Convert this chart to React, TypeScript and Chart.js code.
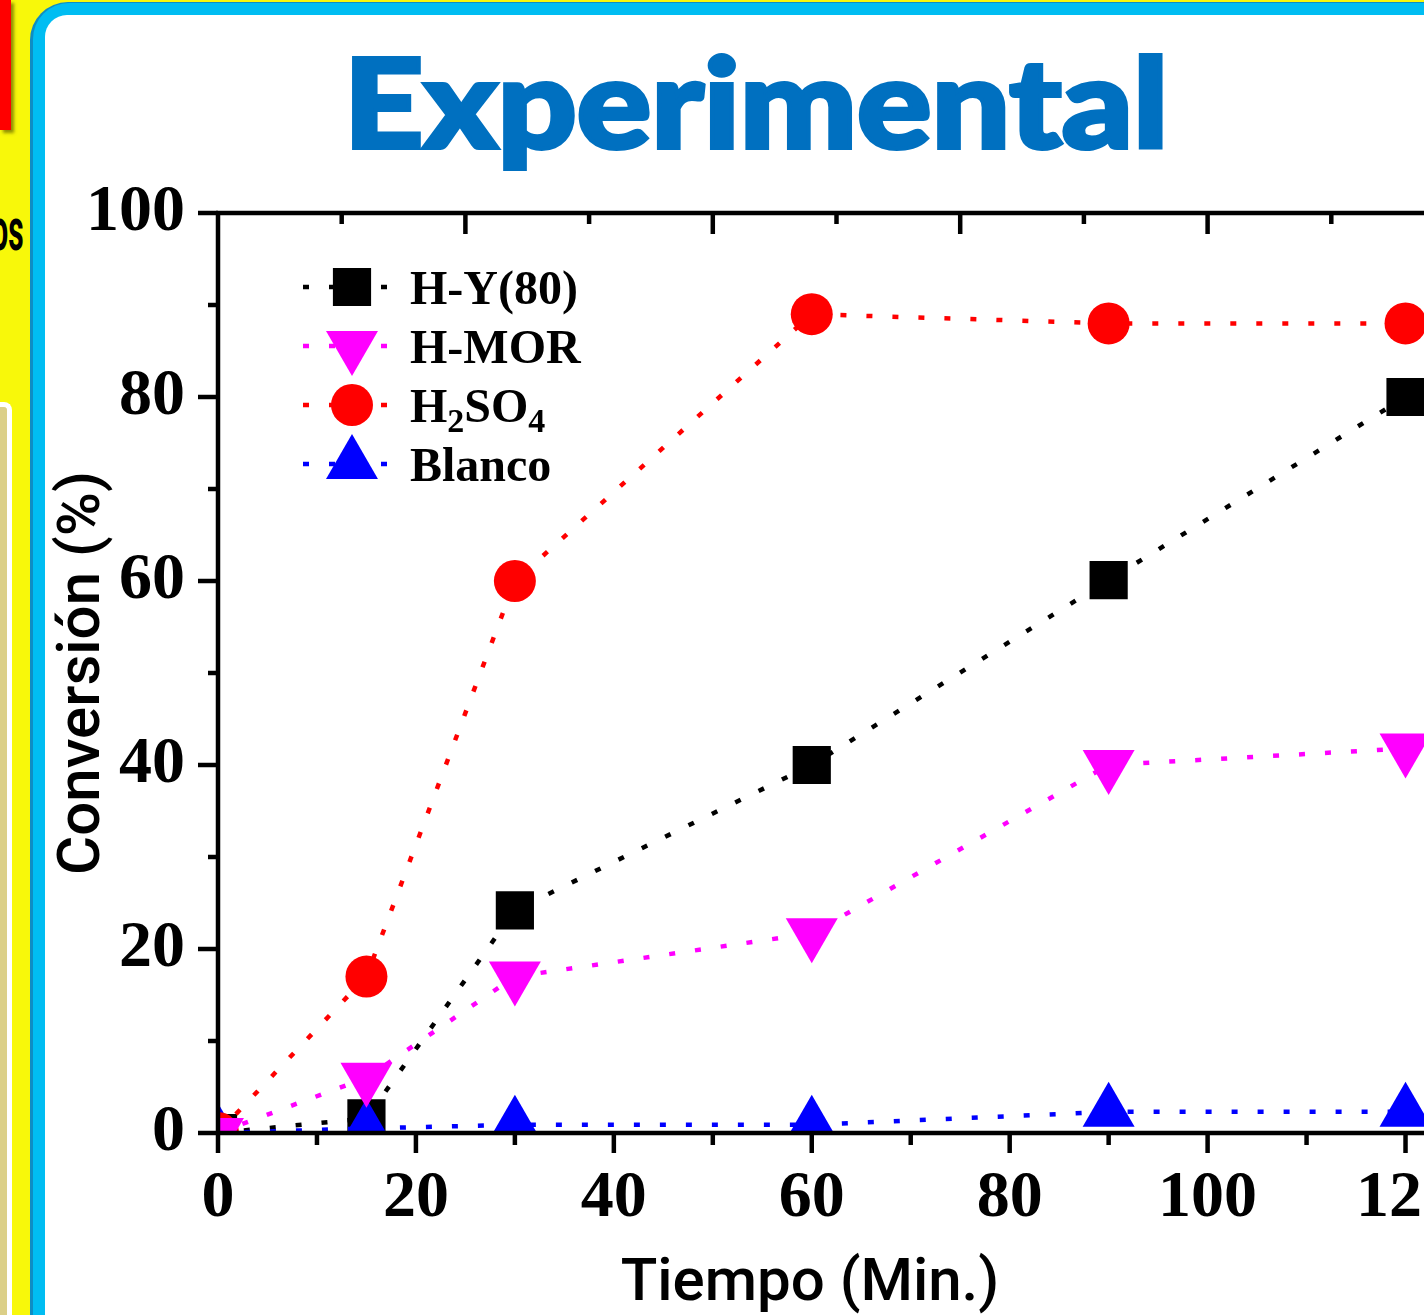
import React, { useEffect, useRef } from 'react';
import { Chart, registerables } from 'chart.js';
import { drawPoint } from 'chart.js/helpers';

Chart.register(...registerables);

// ---------- data ----------
const TIME = [0, 15, 30, 60, 90, 120];
const HY80 = [0, 1.6, 24.2, 40, 60.1, 80];
const HMOR = [0, 6, 17, 21.7, 40, 41.8];
const H2SO4 = [0, 17, 60, 89, 88, 88];
const BLANCO = [0, 0.5, 0.9, 0.9, 2.3, 2.3];
const SERIES_LABELS = ['H-Y(80)', 'H-MOR', 'H₂SO₄', 'Blanco'];

const X_MAJOR = [0, 20, 40, 60, 80, 100, 120];
const X_MINOR = [10, 30, 50, 70, 90, 110];
const Y_MAJOR = [0, 20, 40, 60, 80, 100];
const Y_MINOR = [10, 30, 50, 70, 90];
const TOP_MAJOR = [25, 50, 75, 100, 125];
const TOP_MINOR = [12.5, 37.5, 62.5, 87.5, 112.5];

const CHART_TITLE = 'Experimental';
const X_TITLE = 'Tiempo (Min.)';
const Y_TITLE = 'Conversión (%)';

// ---------- layout ----------
const CW = 1700;
const CH = 1315;
const AREA_LEFT = 218;
const AREA_TOP = 213;
const AREA_BOTTOM = 1133;
const AREA_RIGHT = 1455;

const SERIF = "'Liberation Serif', 'Times New Roman', serif";

const SUBS: Record<string, string> = { '₀': '0', '₁': '1', '₂': '2', '₃': '3', '₄': '4', '₅': '5', '₆': '6', '₇': '7', '₈': '8', '₉': '9' };

function drawRichLabel(ctx: CanvasRenderingContext2D, text: string, x: number, y: number) {
  const runs: { t: string; sub: boolean }[] = [];
  for (const ch of text) {
    const sub = ch in SUBS;
    const c = sub ? SUBS[ch] : ch;
    const last = runs[runs.length - 1];
    if (last && last.sub === sub) last.t += c;
    else runs.push({ t: c, sub });
  }
  let cx = x;
  ctx.textAlign = 'left';
  ctx.textBaseline = 'alphabetic';
  ctx.fillStyle = '#000';
  for (const r of runs) {
    ctx.font = r.sub ? `bold 34px ${SERIF}` : `bold 48px ${SERIF}`;
    ctx.fillText(r.t, cx, r.sub ? y + 10 : y);
    cx += ctx.measureText(r.t).width;
  }
}

const framePlugin = {
  id: 'frame',
  afterDatasetsDraw(chart: any) {
    const { ctx, chartArea, scales } = chart;
    const { left, right, top, bottom } = chartArea;
    const xs = scales.x;
    const ys = scales.y;
    ctx.save();
    ctx.strokeStyle = '#000';
    ctx.lineWidth = 4.5;
    ctx.lineCap = 'butt';
    const line = (x1: number, y1: number, x2: number, y2: number) => {
      ctx.beginPath();
      ctx.moveTo(x1, y1);
      ctx.lineTo(x2, y2);
      ctx.stroke();
    };
    line(left, top - 2, left, bottom + 2);
    line(left - 2, bottom, right, bottom);
    line(left - 2, top, right, top);
    X_MAJOR.forEach((v) => { const p = xs.getPixelForValue(v); line(p, bottom, p, bottom + 20); });
    X_MINOR.forEach((v) => { const p = xs.getPixelForValue(v); line(p, bottom, p, bottom + 12); });
    Y_MAJOR.forEach((v) => { const p = ys.getPixelForValue(v); line(left - 20, p, left, p); });
    Y_MINOR.forEach((v) => { const p = ys.getPixelForValue(v); line(left - 10, p, left, p); });
    TOP_MAJOR.forEach((v) => { const p = xs.getPixelForValue(v); line(p, top, p, top + 21); });
    TOP_MINOR.forEach((v) => { const p = xs.getPixelForValue(v); line(p, top, p, top + 11); });
    ctx.restore();
  },
};

const legendPlugin = {
  id: 'seriesLegend',
  afterDatasetsDraw(chart: any) {
    const { ctx, chartArea } = chart;
    const { left, top } = chartArea;
    ctx.save();
    chart.data.datasets.forEach((ds: any, row: number) => {
      const cy = top + 74 + row * 59;
      ctx.strokeStyle = ds.borderColor;
      ctx.lineWidth = ds.borderWidth;
      ctx.setLineDash(ds.borderDash);
      ctx.beginPath();
      ctx.moveTo(left + 85, cy);
      ctx.lineTo(left + 172, cy);
      ctx.stroke();
      ctx.setLineDash([]);
      ctx.fillStyle = ds.pointBackgroundColor;
      drawPoint(ctx, { pointStyle: ds.pointStyle, rotation: ds.pointRotation || 0, radius: ds.pointRadius, borderWidth: 0 } as any, left + 134, cy);
      drawRichLabel(ctx, ds.label, left + 192, cy + 17);
    });
    ctx.restore();
  },
};

function series(values: number[]) {
  return TIME.map((t, i) => ({ x: t, y: values[i] }));
}

function makeDataset(label: string, values: number[], color: string, pointStyle: string, radius: number, rotation: number, order: number) {
  return {
    label,
    data: series(values),
    borderColor: color,
    backgroundColor: color,
    pointBackgroundColor: color,
    pointBorderColor: color,
    pointBorderWidth: 0,
    borderWidth: 4.5,
    borderDash: [6, 20],
    borderCapStyle: 'butt',
    pointStyle,
    pointRadius: radius,
    pointHoverRadius: radius,
    pointRotation: rotation,
    tension: 0,
    fill: false,
    clip: 0,
    order,
  };
}

export default function App() {
  const canvasRef = useRef<HTMLCanvasElement>(null);

  useEffect(() => {
    const canvas = canvasRef.current;
    if (!canvas) return;
    const chart = new Chart(canvas, {
      type: 'line',
      data: {
        datasets: [
          makeDataset(SERIES_LABELS[0], HY80, '#000000', 'rect', 27, 0, 3),
          makeDataset(SERIES_LABELS[1], HMOR, '#FF00FF', 'triangle', 30, 180, 0),
          makeDataset(SERIES_LABELS[2], H2SO4, '#FF0000', 'circle', 21, 0, 1),
          makeDataset(SERIES_LABELS[3], BLANCO, '#0000FF', 'triangle', 30, 0, 2),
        ] as any,
      },
      options: {
        responsive: false,
        animation: false,
        devicePixelRatio: 1,
        layout: { padding: { top: AREA_TOP, left: 0, right: CW - AREA_RIGHT, bottom: 0 } },
        plugins: { legend: { display: false }, tooltip: { enabled: false }, title: { display: false } },
        events: [],
        scales: {
          x: {
            type: 'linear',
            position: 'bottom',
            min: 0,
            max: 125,
            afterBuildTicks: (s: any) => { s.ticks = X_MAJOR.map((v) => ({ value: v })); },
            afterFit: (s: any) => { s.height = CH - AREA_BOTTOM; },
            grid: { display: false, drawTicks: false },
            border: { display: false },
            ticks: {
              autoSkip: false,
              maxRotation: 0,
              padding: 26,
              color: '#000',
              font: { family: SERIF, size: 66, weight: 'bold', lineHeight: 1.2 },
            },
          },
          y: {
            type: 'linear',
            position: 'left',
            min: 0,
            max: 100,
            afterBuildTicks: (s: any) => { s.ticks = Y_MAJOR.map((v) => ({ value: v })); },
            afterFit: (s: any) => { s.width = AREA_LEFT; },
            grid: { display: false, drawTicks: false },
            border: { display: false },
            ticks: {
              padding: 33,
              color: '#000',
              font: { family: SERIF, size: 66, weight: 'bold', lineHeight: 1.2 },
            },
            title: {
              display: true,
              text: Y_TITLE,
              color: '#000',
              font: { family: 'Roboto', size: 60, weight: '500', lineHeight: 1.2 },
              padding: { top: 48, bottom: 0 },
            },
          },
        },
      } as any,
      plugins: [framePlugin, legendPlugin],
    });
    return () => chart.destroy();
  }, []);

  return (
    <div style={{ position: 'fixed', left: 0, top: 0, width: 1424, height: 1315, overflow: 'hidden', background: '#F8F80A' }}>
      {/* red box top-left */}
      <div style={{ position: 'absolute', left: 0, top: 0, width: 11, height: 130, background: '#FF0000', boxShadow: '3px 3px 3px rgba(110,110,0,0.75)' }} />
      {/* truncated word */}
      <div style={{ position: 'absolute', left: -60, top: 200, width: 84, textAlign: 'right', fontFamily: 'Roboto', fontWeight: 700, fontSize: 60, lineHeight: '60px', color: '#000' }}>
        <span style={{ display: 'inline-block', transform: 'scaleX(0.5)', transformOrigin: 'right center' }}>os</span>
      </div>
      {/* tan side panel */}
      <div style={{ position: 'absolute', left: -30, top: 402, width: 37, height: 1000, background: '#DBCF88', borderRight: '5px solid #FFFFFF', borderTop: '5px solid #FFFFFF', borderTopRightRadius: 8 }} />
      {/* cyan framed panel */}
      <div style={{ position: 'absolute', left: 30, top: 2, width: 1600, height: 1500, background: '#0E8DC4', borderRadius: 38 }} />
      <div style={{ position: 'absolute', left: 33, top: 3, width: 1600, height: 1500, background: '#00BDF2', borderRadius: 36 }} />
      <div style={{ position: 'absolute', left: 45, top: 15, width: 1600, height: 1500, background: '#FFFFFF', borderRadius: 22 }} />
      {/* title */}
      <div style={{ position: 'absolute', left: 156, top: 39, width: 1200, textAlign: 'center', fontFamily: 'Lato', fontWeight: 900, fontSize: 123, lineHeight: '123px', color: '#0070C0', whiteSpace: 'nowrap', transform: 'scaleX(1.13)', transformOrigin: '600px 50%', WebkitTextStroke: '4px #0070C0' } as any}>
        {CHART_TITLE}
      </div>
      <canvas ref={canvasRef} width={CW} height={CH} style={{ position: 'absolute', left: 0, top: 0, width: CW, height: CH }} />
      {/* x-axis title */}
      <div style={{ position: 'absolute', left: 510, top: 1250, width: 600, textAlign: 'center', fontFamily: 'Roboto', fontWeight: 500, fontSize: 60, lineHeight: '60px', color: '#000', whiteSpace: 'nowrap' }}>
        {X_TITLE}
      </div>
    </div>
  );
}
